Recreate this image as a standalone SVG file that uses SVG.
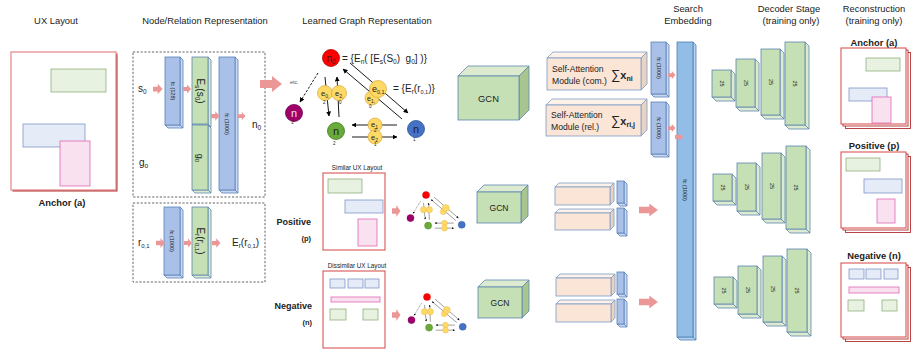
<svg xmlns="http://www.w3.org/2000/svg" xmlns:xlink="http://www.w3.org/1999/xlink" width="911" height="350" viewBox="0 0 911 350">
<style>
text{font-family:"Liberation Sans",Arial,sans-serif;fill:#222}
.t{font-size:9.4px}
.b{font-weight:bold}
.bf{fill:#a9c1e8;stroke:#5a80b8;stroke-width:0.8}
.bs{fill:#c9d8f0;stroke:#5a80b8;stroke-width:0.8}
.gf{fill:#c5e0b4;stroke:#5e86b0;stroke-width:0.8}
.gs{fill:#dcebd0;stroke:#5e86b0;stroke-width:0.8}
.gr{fill:#a9c58f;stroke:#5e86b0;stroke-width:0.8}
.af{fill:#fbe5d6;stroke:#7a9cc6;stroke-width:0.8}
.at{fill:#fdf1e8;stroke:#7a9cc6;stroke-width:0.8}
.ar{fill:#e9d3c2;stroke:#7a9cc6;stroke-width:0.8}
.sf{fill:#92bde6;stroke:#4f7fb5;stroke-width:0.8}
.ss{fill:#b5d2ef;stroke:#4f7fb5;stroke-width:0.8}
.pa{fill:#ec9797}
.dash{fill:none;stroke:#555;stroke-width:0.9;stroke-dasharray:2.2,1.6}
.lay{fill:#fff;stroke:#d95555;stroke-width:1.1}
.lg{fill:url(#dg);stroke:#8fb07a;stroke-width:0.8}
.lb{fill:url(#db);stroke:#7f97c7;stroke-width:0.8}
.lp{fill:url(#dp);stroke:#e067b5;stroke-width:0.8}
.ln{stroke:#000;stroke-width:0.9;fill:none}
.yc{fill:#ffd966;stroke:#d4a93a;stroke-width:0.7}
.rt{font-size:5.5px}
.d{font-size:5.5px}
.rb{fill:#fff;stroke:#b03030;stroke-width:0.9}
.rf{fill:#fff;stroke:#d94545;stroke-width:1}
</style>
<defs>
<pattern id="dg" width="2" height="2" patternUnits="userSpaceOnUse"><rect width="2" height="2" fill="#edf5e7"/><rect x="0.5" y="0.5" width="0.8" height="0.8" fill="#d3e4c6"/></pattern>
<pattern id="db" width="2" height="2" patternUnits="userSpaceOnUse"><rect width="2" height="2" fill="#ebf0f9"/><rect x="0.5" y="0.5" width="0.8" height="0.8" fill="#ccd8ee"/></pattern>
<pattern id="dp" width="2" height="2" patternUnits="userSpaceOnUse"><rect width="2" height="2" fill="#fae8f3"/><rect x="0.5" y="0.5" width="0.8" height="0.8" fill="#efc4df"/></pattern>
<marker id="ah" viewBox="0 0 10 10" refX="9" refY="5" markerWidth="5.5" markerHeight="5.5" orient="auto"><path d="M0,0 L10,5 L0,10 Z" fill="#000"/></marker>
<path id="pas" d="M0,-2.5 H5 V-5.5 L10,0 L5,5.5 V2.5 H0 Z"/>
<path id="pal" d="M0,-4 H12 V-8 L22,0 L12,8 V4 H0 Z"/>
<g id="gshapes">
 <line class="ln" x1="318" y1="73" x2="300" y2="102" stroke-dasharray="2.5,1.5" marker-end="url(#ah)"/>
 <line class="ln" x1="325" y1="77" x2="329" y2="116" marker-end="url(#ah)"/>
 <line class="ln" x1="339" y1="117" x2="337" y2="77" marker-end="url(#ah)"/>
 <line class="ln" x1="350" y1="63" x2="408" y2="113" marker-end="url(#ah)"/>
 <line class="ln" x1="402" y1="119" x2="343" y2="69" marker-end="url(#ah)"/>
 <line class="ln" x1="397" y1="125" x2="352" y2="125" marker-end="url(#ah)"/>
 <line class="ln" x1="352" y1="137" x2="397" y2="137" marker-end="url(#ah)"/>
 <circle cx="331" cy="58" r="8.5" fill="#ff0000" stroke="#b00000" stroke-width="0.8"/>
 <circle cx="294" cy="113" r="8.5" fill="#a0006a" stroke="#700050" stroke-width="0.8"/>
 <circle cx="336" cy="131" r="8.5" fill="#6aaa3a" stroke="#3f7a20" stroke-width="0.8"/>
 <circle cx="416" cy="129" r="8.5" fill="#4472c4" stroke="#2f5597" stroke-width="0.8"/>
 <circle class="yc" cx="325" cy="93" r="7.5"/>
 <circle class="yc" cx="339" cy="93" r="7.5"/>
 <circle class="yc" cx="372" cy="98" r="7"/>
 <circle class="yc" cx="378" cy="89" r="8.5"/>
 <circle class="yc" cx="375" cy="125" r="7"/>
 <circle class="yc" cx="375" cy="137" r="7"/>
</g>
</defs>
<rect width="911" height="350" fill="#fff"/>

<!-- Titles -->
<g id="titles">
<text class="t" x="56" y="24" text-anchor="middle">UX Layout</text>
<text class="t" x="205" y="24" text-anchor="middle">Node/Relation Representation</text>
<text class="t" x="367" y="24" text-anchor="middle">Learned Graph Representation</text>
<text class="t" x="688" y="12" text-anchor="middle">Search</text>
<text class="t" x="688" y="24" text-anchor="middle">Embedding</text>
<text class="t" x="789" y="12" text-anchor="middle">Decoder Stage</text>
<text class="t" x="791" y="24" text-anchor="middle">(training only)</text>
<text class="t" x="874" y="12" text-anchor="middle">Reconstruction</text>
<text class="t" x="874" y="24" text-anchor="middle">(training only)</text>
</g>

<!-- Anchor layout -->
<g id="anchor">
<rect x="12.5" y="53.5" width="105" height="138" fill="#b03030"/>
<rect x="11" y="52" width="105" height="138" fill="#fff" stroke="#e58f8f" stroke-width="1.3"/>
<rect class="lg" x="51" y="69" width="55" height="23"/>
<rect class="lb" x="23" y="124" width="62" height="23"/>
<rect class="lp" x="60" y="141" width="30" height="45"/>
<text class="b" x="62" y="206" font-size="9.4" text-anchor="middle">Anchor (a)</text>
</g>

<!-- Node representation box -->
<g id="node-rep">
<rect class="dash" x="133" y="52" width="132" height="145"/>
<text x="138" y="92" font-size="10">s<tspan font-size="6.5" dy="2">0</tspan></text>
<text x="139" y="166" font-size="10">g<tspan font-size="6.5" dy="2">o</tspan></text>
<polygon class="bs" points="180,57 183,60 183,128 180,125"/><polygon class="bs" points="165,125 180,125 183,128 168,128"/><rect class="bf" x="165" y="57" width="15" height="68"/>
<text class="rt" transform="translate(172.5,91) rotate(90)" text-anchor="middle" dy="2">fc (128)</text>
<polygon class="gs" points="208,57 211,60 211,127 208,124"/><polygon class="gs" points="192,124 208,124 211,127 195,127"/><rect class="gf" x="192" y="57" width="16" height="67"/>
<text transform="translate(200,91) rotate(90)" text-anchor="middle" dy="3.5" font-size="10">E<tspan font-size="6.5" dy="2">s</tspan><tspan dy="-2">(s</tspan><tspan font-size="6.5" dy="2">0</tspan><tspan dy="-2">)</tspan></text>
<polygon class="gs" points="208,125 211,128 211,193 208,190"/><polygon class="gs" points="192,190 208,190 211,193 195,193"/><rect class="gf" x="192" y="125" width="16" height="65"/>
<text transform="translate(200,158) rotate(90)" text-anchor="middle" dy="3.5" font-size="9">g<tspan font-size="6" dy="2">0</tspan></text>
<polygon class="bs" points="235,57 238,60 238,193 235,190"/><polygon class="bs" points="219,190 235,190 238,193 222,193"/><rect class="bf" x="219" y="57" width="16" height="133"/>
<text class="rt" transform="translate(227,124) rotate(90)" text-anchor="middle" dy="2">fc (1000)</text>
<text x="252" y="128" font-size="10">n<tspan font-size="6.5" dy="2">0</tspan></text>
</g>

<!-- Relation representation box -->
<g id="rel-rep">
<rect class="dash" x="133" y="203" width="132" height="79"/>
<text x="138" y="246" font-size="10">r<tspan font-size="6" dy="2">0,1</tspan></text>
<polygon class="bs" points="180,207 183,210 183,278 180,275"/><polygon class="bs" points="164,275 180,275 183,278 167,278"/><rect class="bf" x="164" y="207" width="16" height="68"/>
<text class="rt" transform="translate(172,241) rotate(90)" text-anchor="middle" dy="2">fc (1000)</text>
<polygon class="gs" points="208,207 211,210 211,278 208,275"/><polygon class="gs" points="192,275 208,275 211,278 195,278"/><rect class="gf" x="192" y="207" width="16" height="68"/>
<text transform="translate(200,241) rotate(90)" text-anchor="middle" dy="3.5" font-size="10">E<tspan font-size="6.5" dy="2">r</tspan><tspan dy="-2">(r</tspan><tspan font-size="6" dy="2">0,1</tspan><tspan dy="-2">)</tspan></text>
<text x="232" y="246" font-size="10">E<tspan font-size="6.5" dy="2">r</tspan><tspan dy="-2">(r</tspan><tspan font-size="6" dy="2">0,1</tspan><tspan dy="-2">)</tspan></text>
</g>

<!-- Big learned graph -->
<g id="graph-anchor">
<use xlink:href="#gshapes"/>
<text x="331" y="61.5" font-size="10" text-anchor="middle">n<tspan font-size="6.5" dy="2">0</tspan></text>
<text x="294" y="117" font-size="11" text-anchor="middle" style="fill:#f3e0ec">n</text>
<text x="291" y="124" font-size="4.5">3</text>
<text x="336" y="135" font-size="11" text-anchor="middle">n</text>
<text x="333" y="145" font-size="4.5">2</text>
<text x="416" y="133" font-size="11" text-anchor="middle">n</text>
<text x="413" y="141" font-size="4.5">1</text>
<text x="321" y="96" font-size="7.5">e<tspan font-size="5" dy="1.5">0,</tspan></text>
<text x="323" y="104" font-size="4.5">2</text>
<text x="335" y="96" font-size="7.5">e<tspan font-size="5" dy="1.5">2,</tspan></text>
<text x="339" y="104" font-size="4.5">0</text>
<text x="367" y="101" font-size="7">e<tspan font-size="5" dy="1.5">1,</tspan></text>
<text x="369" y="108" font-size="4.5">0</text>
<text x="372" y="92" font-size="9">e<tspan font-size="5.5" dy="1.5">0,1</tspan></text>
<text x="371" y="127" font-size="7.5">e<tspan font-size="5" dy="1.5">1</tspan></text>
<text x="374" y="132" font-size="4.5">2</text>
<text x="371" y="140" font-size="7.5">e<tspan font-size="5" dy="1.5">2</tspan></text>
<text x="374" y="146" font-size="4.5">1</text>
<text x="290" y="84" font-size="5.5" style="fill:#555">etc.</text>
<text x="342" y="62" font-size="10">= {E<tspan font-size="6.5" dy="2">n</tspan><tspan dy="-2">( [E</tspan><tspan font-size="6.5" dy="2">s</tspan><tspan dy="-2">(S</tspan><tspan font-size="6.5" dy="2">0</tspan><tspan dy="-2" xml:space="preserve">)  g</tspan><tspan font-size="6.5" dy="2">0</tspan><tspan dy="-2">] )}</tspan></text>
<text x="393" y="92" font-size="10">= {E<tspan font-size="6.5" dy="2">r</tspan><tspan dy="-2">(r</tspan><tspan font-size="5.5" dy="2">0,1</tspan><tspan dy="-2">)}</tspan></text>
</g>

<!-- Positive layout -->
<g id="positive">
<text x="357" y="170" font-size="6.3" text-anchor="middle">Similar UX Layout</text>
<rect class="lay" x="323" y="173" width="62" height="77"/>
<rect class="lg" x="328" y="179" width="34" height="14"/>
<rect class="lb" x="345" y="200" width="38" height="13"/>
<rect class="lp" x="358" y="219" width="19" height="27"/>
<text class="b" x="311" y="225" font-size="9" text-anchor="end">Positive</text>
<text class="b" x="311" y="241" font-size="7.5" text-anchor="end">(p)</text>
</g>

<!-- Negative layout -->
<g id="negative">
<text x="357" y="268" font-size="6.3" text-anchor="middle">Dissimilar UX Layout</text>
<rect class="lay" x="323" y="271" width="62" height="77"/>
<rect class="lb" x="330" y="279" width="15" height="9"/>
<rect class="lb" x="348" y="279" width="15" height="9"/>
<rect class="lb" x="365" y="279" width="14" height="9"/>
<rect class="lp" x="331" y="297" width="49" height="5"/>
<rect class="lg" x="330" y="309" width="16" height="11"/>
<rect class="lg" x="363" y="309" width="15" height="11"/>
<text class="b" x="312" y="309" font-size="9" text-anchor="end">Negative</text>
<text class="b" x="312" y="325" font-size="7.5" text-anchor="end">(n)</text>
</g>

<!-- small graphs -->
<g id="graph-positive"><use xlink:href="#gshapes" transform="translate(287,170.6) scale(0.42)"/></g>
<g id="graph-negative"><use xlink:href="#gshapes" transform="translate(288,272.6) scale(0.42)"/></g>

<!-- GCN blocks -->
<g id="gcn-anchor">
<polygon class="gs" points="458,76 468,66 529,66 519,76"/><polygon class="gr" points="519,76 529,66 529,110 519,120"/><rect class="gf" x="458" y="76" width="61" height="44"/>
<text x="488.5" y="101.5" font-size="9.4" text-anchor="middle">GCN</text>
</g>
<g id="gcn-positive">
<polygon class="gs" points="477,192 484,185 528,185 521,192"/><polygon class="gr" points="521,192 528,185 528,216 521,223"/><rect class="gf" x="477" y="192" width="44" height="31"/>
<text x="499" y="211" font-size="8.5" text-anchor="middle">GCN</text>
</g>
<g id="gcn-negative">
<polygon class="gs" points="478,287 485,280 529,280 522,287"/><polygon class="gr" points="522,287 529,280 529,311 522,318"/><rect class="gf" x="478" y="287" width="44" height="31"/>
<text x="500" y="306" font-size="8.5" text-anchor="middle">GCN</text>
</g>

<!-- Self attention -->
<g id="att-com">
<polygon class="at" points="547,58 553,52 647,52 641,58"/><polygon class="ar" points="641,58 647,52 647,84 641,90"/><rect class="af" x="547" y="58" width="94" height="32"/>
<text x="552" y="72" font-size="8.6">Self-Attention</text>
<text x="552" y="84" font-size="8.6">Module (com.)</text>
<text x="611" y="79" font-size="13">∑<tspan font-weight="bold" font-size="11">x</tspan><tspan font-weight="bold" font-size="7" dy="2">ni</tspan></text>
</g>
<g id="att-rel">
<polygon class="at" points="546,105 552,99 647,99 641,105"/><polygon class="ar" points="641,105 647,99 647,130 641,136"/><rect class="af" x="546" y="105" width="95" height="31"/>
<text x="551" y="118" font-size="8.6">Self-Attention</text>
<text x="551" y="130" font-size="8.6">Module (rel.)</text>
<text x="611" y="125" font-size="13">∑<tspan font-weight="bold" font-size="11">x</tspan><tspan font-weight="bold" font-size="7" dy="2">ri,j</tspan></text>
</g>
<g id="att-positive">
<polygon class="at" points="555,187 559,183 614,183 610,187"/><polygon class="ar" points="610,187 614,183 614,201 610,205"/><rect class="af" x="555" y="187" width="55" height="18"/>
<polygon class="at" points="555,213 559,209 614,209 610,213"/><polygon class="ar" points="610,213 614,209 614,226 610,230"/><rect class="af" x="555" y="213" width="55" height="17"/>
<polygon class="bs" points="624,181 627,184 627,206 624,203"/><polygon class="bs" points="617,203 624,203 627,206 620,206"/><rect class="bf" x="617" y="181" width="7" height="22"/>
<polygon class="bs" points="624,208 627,211 627,236 624,233"/><polygon class="bs" points="617,233 624,233 627,236 620,236"/><rect class="bf" x="617" y="208" width="7" height="25"/>
</g>
<g id="att-negative">
<polygon class="at" points="556,278 560,274 615,274 611,278"/><polygon class="ar" points="611,278 615,274 615,292 611,296"/><rect class="af" x="556" y="278" width="55" height="18"/>
<polygon class="at" points="556,304 560,300 615,300 611,304"/><polygon class="ar" points="611,304 615,300 615,318 611,322"/><rect class="af" x="556" y="304" width="55" height="18"/>
<polygon class="bs" points="624,272 627,275 627,297 624,294"/><polygon class="bs" points="617,294 624,294 627,297 620,297"/><rect class="bf" x="617" y="272" width="7" height="22"/>
<polygon class="bs" points="624,299 627,302 627,327 624,324"/><polygon class="bs" points="617,324 624,324 627,327 620,327"/><rect class="bf" x="617" y="299" width="7" height="25"/>
</g>

<!-- Search embedding -->
<g id="search">
<polygon class="bs" points="666,42 669,45 669,97 666,94"/><polygon class="bs" points="651,94 666,94 669,97 654,97"/><rect class="bf" x="651" y="42" width="15" height="52"/>
<text class="rt" transform="translate(658.5,68) rotate(90)" text-anchor="middle" dy="2">fc (1000)</text>
<polygon class="bs" points="666,102 669,105 669,157 666,154"/><polygon class="bs" points="651,154 666,154 669,157 654,157"/><rect class="bf" x="651" y="102" width="15" height="52"/>
<text class="rt" transform="translate(658.5,128) rotate(90)" text-anchor="middle" dy="2">fc (1000)</text>
<polygon class="ss" points="693,42 696,45 696,340 693,337"/><polygon class="ss" points="677,337 693,337 696,340 680,340"/><rect class="sf" x="677" y="42" width="16" height="295"/>
<text class="rt" transform="translate(685,190) rotate(90)" text-anchor="middle" dy="2">fc (1000)</text>
</g>

<!-- Decoder -->
<g id="decoder-a">
<polygon class="gs" points="731,70 735,74 735,101 731,97"/><polygon class="gs" points="712,97 731,97 735,101 716,101"/><rect class="gf" x="712" y="70" width="19" height="27"/>
<text class="d" transform="translate(721.5,83.5) rotate(90)" text-anchor="middle" dy="2">25</text>
<polygon class="gs" points="755,59 759,63 759,111 755,107"/><polygon class="gs" points="736,107 755,107 759,111 740,111"/><rect class="gf" x="736" y="59" width="19" height="48"/>
<text class="d" transform="translate(745.5,83) rotate(90)" text-anchor="middle" dy="2">25</text>
<polygon class="gs" points="780,49 784,53 784,119 780,115"/><polygon class="gs" points="761,115 780,115 784,119 765,119"/><rect class="gf" x="761" y="49" width="19" height="66"/>
<text class="d" transform="translate(770.5,82) rotate(90)" text-anchor="middle" dy="2">25</text>
<polygon class="gs" points="805,42 809,46 809,129 805,125"/><polygon class="gs" points="785,125 805,125 809,129 789,129"/><rect class="gf" x="785" y="42" width="20" height="83"/>
<text class="d" transform="translate(795,83.5) rotate(90)" text-anchor="middle" dy="2">25</text>
</g>
<g id="decoder-p" transform="translate(1,104)">
<polygon class="gs" points="731,70 735,74 735,101 731,97"/><polygon class="gs" points="712,97 731,97 735,101 716,101"/><rect class="gf" x="712" y="70" width="19" height="27"/>
<text class="d" transform="translate(721.5,83.5) rotate(90)" text-anchor="middle" dy="2">25</text>
<polygon class="gs" points="755,59 759,63 759,111 755,107"/><polygon class="gs" points="736,107 755,107 759,111 740,111"/><rect class="gf" x="736" y="59" width="19" height="48"/>
<text class="d" transform="translate(745.5,83) rotate(90)" text-anchor="middle" dy="2">25</text>
<polygon class="gs" points="780,49 784,53 784,119 780,115"/><polygon class="gs" points="761,115 780,115 784,119 765,119"/><rect class="gf" x="761" y="49" width="19" height="66"/>
<text class="d" transform="translate(770.5,82) rotate(90)" text-anchor="middle" dy="2">25</text>
<polygon class="gs" points="805,42 809,46 809,129 805,125"/><polygon class="gs" points="785,125 805,125 809,129 789,129"/><rect class="gf" x="785" y="42" width="20" height="83"/>
<text class="d" transform="translate(795,83.5) rotate(90)" text-anchor="middle" dy="2">25</text>
</g>
<g id="decoder-n" transform="translate(2,207)">
<polygon class="gs" points="731,70 735,74 735,101 731,97"/><polygon class="gs" points="712,97 731,97 735,101 716,101"/><rect class="gf" x="712" y="70" width="19" height="27"/>
<text class="d" transform="translate(721.5,83.5) rotate(90)" text-anchor="middle" dy="2">25</text>
<polygon class="gs" points="755,59 759,63 759,111 755,107"/><polygon class="gs" points="736,107 755,107 759,111 740,111"/><rect class="gf" x="736" y="59" width="19" height="48"/>
<text class="d" transform="translate(745.5,83) rotate(90)" text-anchor="middle" dy="2">25</text>
<polygon class="gs" points="780,49 784,53 784,119 780,115"/><polygon class="gs" points="761,115 780,115 784,119 765,119"/><rect class="gf" x="761" y="49" width="19" height="66"/>
<text class="d" transform="translate(770.5,82) rotate(90)" text-anchor="middle" dy="2">25</text>
<polygon class="gs" points="805,42 809,46 809,129 805,125"/><polygon class="gs" points="785,125 805,125 809,129 789,129"/><rect class="gf" x="785" y="42" width="20" height="83"/>
<text class="d" transform="translate(795,83.5) rotate(90)" text-anchor="middle" dy="2">25</text>
</g>

<!-- Reconstruction -->
<g id="recon-a">
<text class="b" x="874" y="46" font-size="9.4" text-anchor="middle">Anchor (a)</text>
<rect class="rb" x="845.5" y="52.5" width="65" height="76"/>
<rect class="rb" x="843" y="50" width="65" height="76"/>
<rect class="rf" x="841" y="48" width="65" height="76"/>
<rect class="lg" x="866" y="58" width="34" height="13"/>
<rect class="lb" x="849" y="88" width="38" height="13"/>
<rect class="lp" x="872" y="97" width="19" height="26"/>
</g>
<g id="recon-p">
<text class="b" x="874" y="149" font-size="9.4" text-anchor="middle">Positive (p)</text>
<rect class="rb" x="845.5" y="156.5" width="65" height="76"/>
<rect class="rb" x="843" y="154" width="65" height="76"/>
<rect class="rf" x="841" y="152" width="65" height="76"/>
<rect class="lg" x="846" y="158" width="34" height="13"/>
<rect class="lb" x="864" y="179" width="38" height="14"/>
<rect class="lp" x="877" y="199" width="18" height="24"/>
</g>
<g id="recon-n">
<text class="b" x="874" y="259" font-size="9.4" text-anchor="middle">Negative (n)</text>
<rect class="rb" x="845.5" y="267.5" width="65" height="74"/>
<rect class="rb" x="843" y="265" width="65" height="74"/>
<rect class="rf" x="841" y="263" width="65" height="74"/>
<rect class="lb" x="849" y="269" width="15" height="10"/>
<rect class="lb" x="866" y="269" width="15" height="10"/>
<rect class="lb" x="884" y="269" width="14" height="10"/>
<rect class="lp" x="849" y="287" width="50" height="6"/>
<rect class="lg" x="848" y="300" width="16" height="11"/>
<rect class="lg" x="882" y="300" width="15" height="11"/>
</g>

<!-- Connectors (block arrows) -->
<g id="connectors" class="pa">
<use xlink:href="#pas" transform="translate(153,89) scale(0.95)"/>
<use xlink:href="#pas" transform="translate(183,89) scale(0.8)"/>
<use xlink:href="#pas" transform="translate(211,116) scale(0.85)"/>
<use xlink:href="#pas" transform="translate(238,116) scale(0.75)"/>
<use xlink:href="#pas" transform="translate(156,243) scale(0.9)"/>
<use xlink:href="#pas" transform="translate(184,243) scale(0.8)"/>
<use xlink:href="#pas" transform="translate(212,243) scale(0.85)"/>
<use xlink:href="#pal" transform="translate(260,84)"/>
<use xlink:href="#pas" transform="translate(392,211) scale(0.85,1.1)"/>
<use xlink:href="#pas" transform="translate(392,315) scale(0.85,1.1)"/>
<use xlink:href="#pas" transform="translate(668,75) scale(0.75)"/>
<use xlink:href="#pas" transform="translate(668,128) scale(0.75)"/>
<use xlink:href="#pas" transform="translate(675,137) scale(0.8)"/>
<use xlink:href="#pal" transform="translate(639,210) scale(0.86,0.8)"/>
<use xlink:href="#pal" transform="translate(639,302) scale(0.86,0.8)"/>
</g>
</svg>
